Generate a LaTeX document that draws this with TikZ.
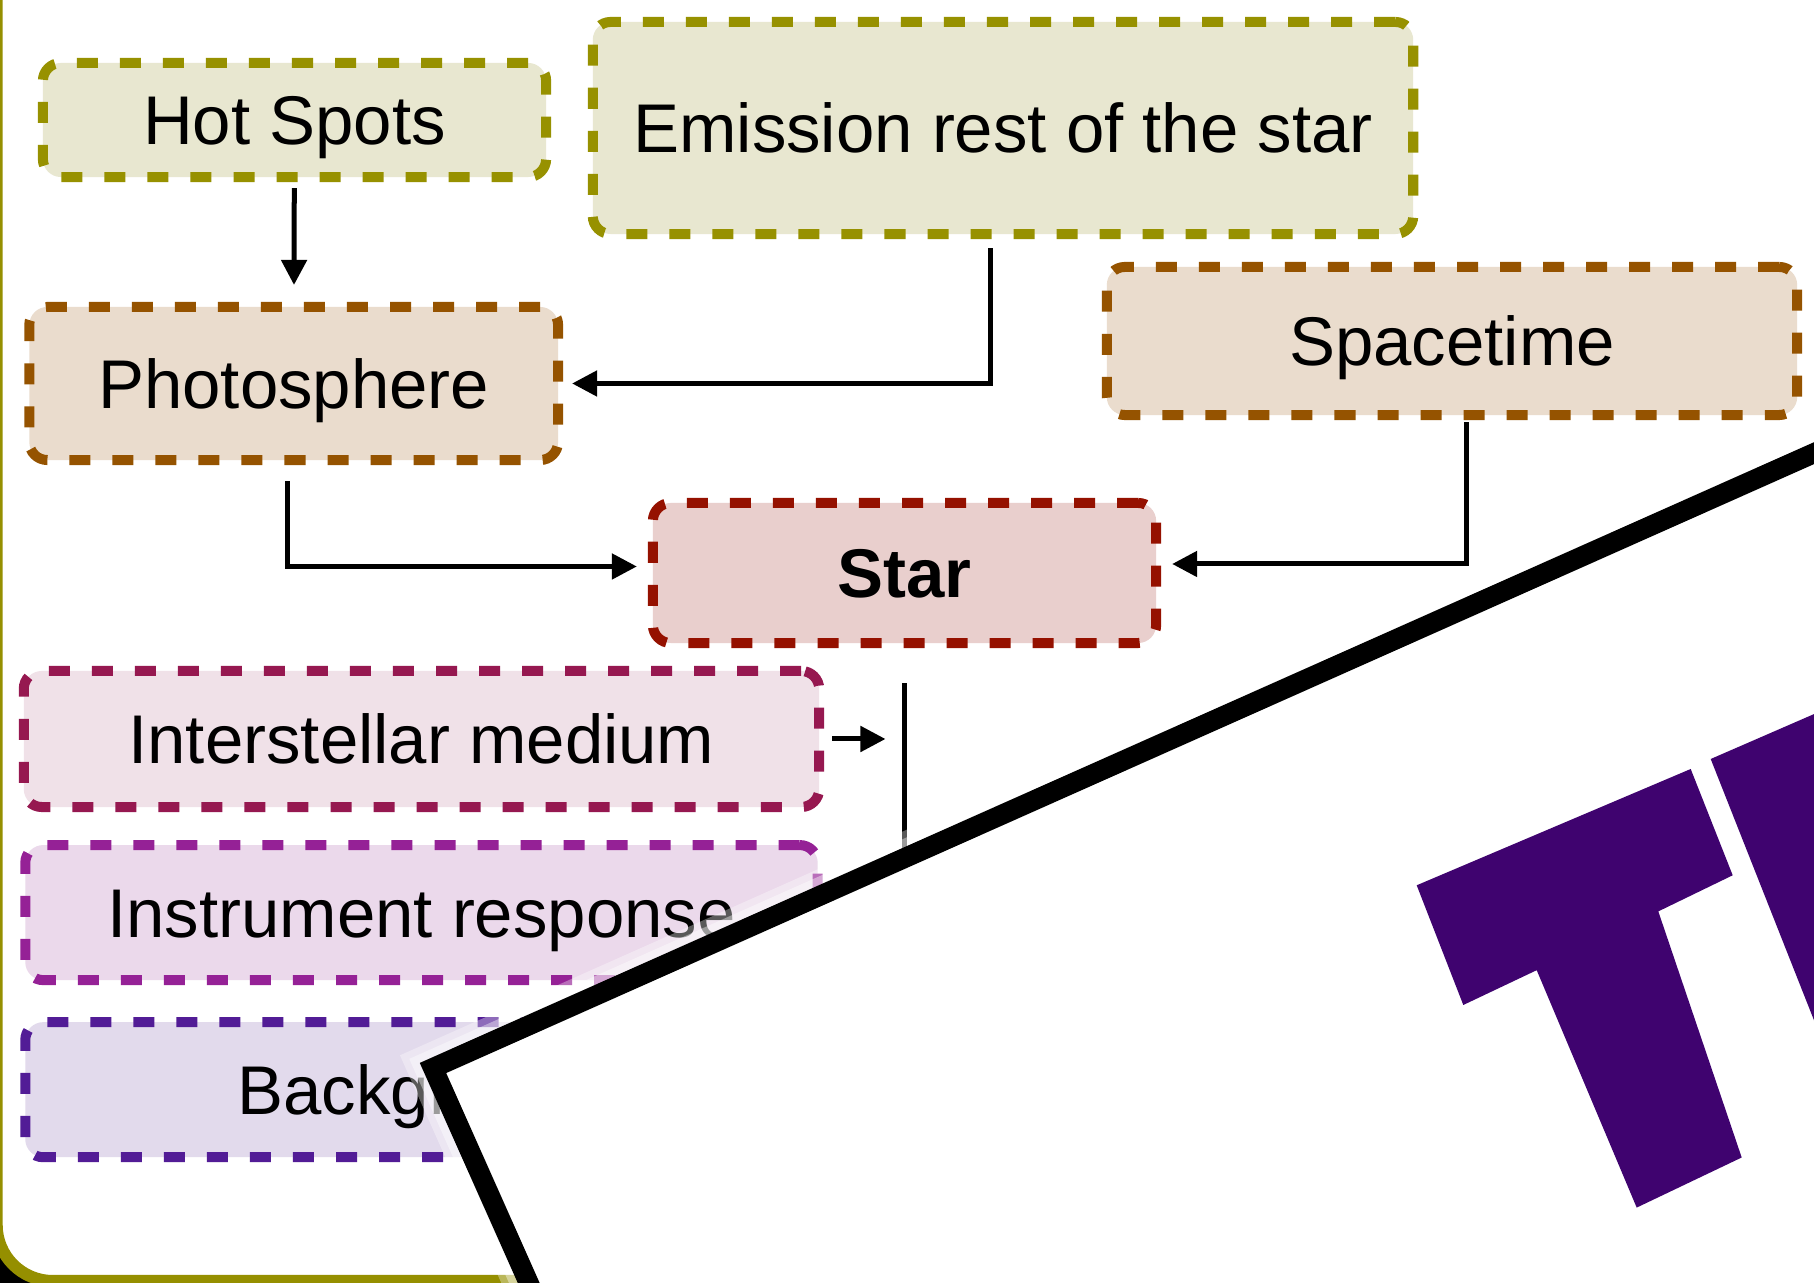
\documentclass[tikz,border=0pt]{standalone}
\usepackage{fontspec}
\setmainfont{Liberation Sans}
\usetikzlibrary{positioning,arrows.meta}

\definecolor{olivedash}{HTML}{979100}
\definecolor{olivefill}{HTML}{E8E7D0}
\definecolor{browndash}{HTML}{955300}
\definecolor{brownfill}{HTML}{EADCCD}
\definecolor{stardash}{HTML}{951100}
\definecolor{starfill}{HTML}{E9CFCD}
\definecolor{ismdash}{HTML}{961850}
\definecolor{ismfill}{HTML}{F0E1E8}
\definecolor{irfdash}{HTML}{952196}
\definecolor{irffill}{HTML}{EBD9EB}
\definecolor{bkgdash}{HTML}{521C96}
\definecolor{bkgfill}{HTML}{E2DAEC}
\definecolor{logopurple}{HTML}{3F036F}
\definecolor{frameolive}{HTML}{958F00}

\newcommand{\compfont}{\fontsize{19.6pt}{23pt}\selectfont}

\begin{document}
\begin{tikzpicture}[
  x=0.01cm, y=-0.01cm,
  node distance=4mm,
  comp/.style={rounded corners=0.18cm, line width=0.1cm, dash pattern=on 0.21cm off 0.22cm,
               inner sep=0pt, align=center, text height=0.49cm, text depth=0pt,
               font=\compfont},
  olive/.style={comp, draw=olivedash, fill=olivefill},
  brown/.style={comp, draw=browndash, fill=brownfill},
  starbox/.style={comp, draw=stardash, fill=starfill, font=\compfont\bfseries},
  ismbox/.style={comp, draw=ismdash, fill=ismfill},
  irfbox/.style={comp, draw=irfdash, fill=irffill},
  bkgbox/.style={comp, draw=bkgdash, fill=bkgfill},
  arr/.style={-{Triangle[length=0.25cm, width=0.25cm]}, line width=0.05cm},
  link/.style={line width=0.05cm},
  card/.style={line width=0.2cm, line join=miter}
]
\useasboundingbox (0,0) rectangle (1814,1283);
\clip (0,0) rectangle (1814,1283);

% slide frame
\fill[black] (0,0) rectangle (1814,1283);
\draw[frameolive, fill=white, line width=0.12cm, rounded corners=0.56cm] (-3.3,-200) rectangle (2100,1281);

% ===== components =====
\node[olive, minimum width=5.03cm, minimum height=1.14cm] (hot) at (294.5,120) {Hot Spots};
\node[olive, minimum width=8.2cm, minimum height=2.12cm] (emis) at (1003,128) {Emission rest of the star};
\node[brown, minimum width=5.285cm, minimum height=1.53cm] (photo) at (293.7,383.5) {Photosphere};
\node[brown, minimum width=6.9cm, minimum height=1.48cm] (stime) at (1452,341) {Spacetime};
\node[starbox, minimum width=5.03cm, minimum height=1.4cm] (star) at (904.5,573) {Star};

\node[ismbox, minimum width=7.95cm, minimum height=1.36cm] (ism) at (421.5,739) {Interstellar medium};
\node[irfbox, minimum width=7.92cm, minimum height=1.35cm, below=0.28cm of ism] (irf) {Instrument response};
\node[bkgbox, minimum width=7.92cm, minimum height=1.35cm, below=0.32cm of irf] (bkg) {Background};

% ===== connectors =====
\draw[arr, shorten <=0.06cm, shorten >=0.17cm] (hot) -- (photo);
\draw[arr, shorten <=0.09cm, shorten >=0.09cm] ([xshift=-0.125cm]emis.south) |- (photo.east);
\draw[arr, shorten <=0.16cm, shorten >=0.11cm] ([xshift=-0.057cm]photo.south) |- ([yshift=0.065cm]star.west);
\draw[arr, shorten <=0.02cm, shorten >=0.11cm] ([xshift=0.147cm]stime.south) |- ([yshift=0.09cm]star.east);

\coordinate (tail) at (904.5,1150);
\draw[link, shorten <=0.35cm] (star) -- (tail);
\draw[arr, shorten <=0.08cm, shorten >=0.19cm] (ism.east) -- (ism.east -| tail);

% ===== card laid over the slide =====
\fill[white] (433,1068) -- (2260,254.6) -- (2748,1350.6) -- (921,2164) -- cycle;
\draw[white, opacity=0.35, card, line width=0.5cm] (433,1068) -- (2260,254.6) -- (2748,1350.6) -- (921,2164) -- cycle;
\draw[white, opacity=0.4, card, line width=0.36cm] (433,1068) -- (2260,254.6) -- (2748,1350.6) -- (921,2164) -- cycle;
\draw[card] (433,1068) -- (2260,254.6) -- (2748,1350.6) -- (921,2164) -- cycle;

% logo letters
\fill[logopurple] (1416.7,885.3) -- (1690.7,769.0) -- (1732.7,875.3) -- (1658.3,911.4)
  -- (1741.7,1157.5) -- (1636.7,1207.6) -- (1536.7,970.2) -- (1463.3,1005.0) -- cycle;
\fill[logopurple] (1710.7,759.0) -- (1814,714.1) -- (1814,1020.3) -- cycle;

\end{tikzpicture}
\end{document}
